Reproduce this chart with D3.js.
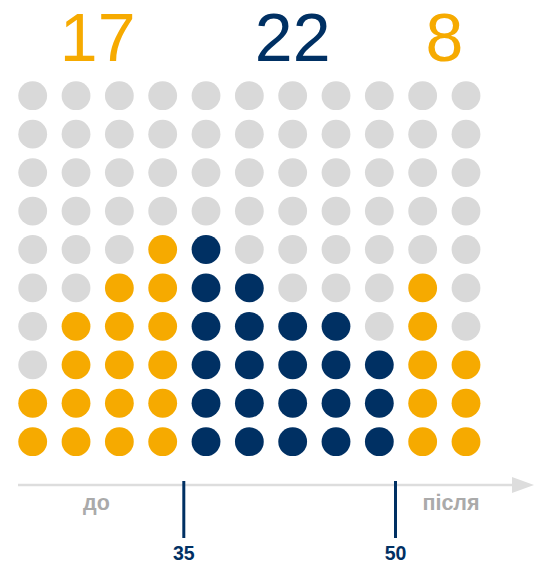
<!DOCTYPE html>
<html lang="uk">
<head>
<meta charset="UTF-8">
<title>До 35, 35–50, після 50</title>
<script src="https://cdn.jsdelivr.net/npm/d3@7"></script>
<style>
  body { margin: 0; background: #fff; }
  text { font-family: Arial, "Liberation Sans", Helvetica, sans-serif; }
</style>
</head>
<body>
<div id="container"></div>
<script>
// dots per column, counted from the bottom
const colCounts = [2, 4, 5, 6, 6, 5, 4, 4, 3, 5, 3];
// which group each column belongs to
const colGroup = [0, 0, 0, 0, 1, 1, 1, 1, 1, 2, 2];
const groupTotals = [17, 22, 8];
const groupColors = ["#f6aa00", "#003063", "#f6aa00"];
const nRows = 10;
const ageTicks = [35, 50];
const sideLabels = ["до", "після"];

const W = 544, H = 563;
const grey = "#d9d9d9";

let svg = d3.select("#container")
    .append("svg")
    .attr("width", W)
    .attr("height", H);

let x = d3.scalePoint()
    .domain(d3.range(colCounts.length))
    .range([32.7, 466]);

let y = d3.scalePoint()
    .domain(d3.range(nRows))
    .range([441.7, 95.7]);

// build cells
let cells = [];
colCounts.forEach((n, c) => {
    for (let r = 0; r < nRows; r++) {
        cells.push({ col: c, row: r, on: r < n, group: colGroup[c] });
    }
});

svg.append("g")
    .selectAll("circle")
    .data(cells)
    .join("circle")
    .attr("cx", d => x(d.col))
    .attr("cy", d => y(d.row))
    .attr("r", 14.4)
    .attr("fill", d => d.on ? groupColors[d.group] : grey);

// group totals on top
let groupCenters = groupTotals.map((t, g) => {
    let cols = d3.range(colGroup.length).filter(c => colGroup[c] === g);
    return (x(d3.min(cols)) + x(d3.max(cols))) / 2;
});

svg.append("g")
    .selectAll("text")
    .data(groupTotals)
    .join("text")
    .attr("x", (d, i) => groupCenters[i])
    .attr("y", 60.7)
    .attr("text-anchor", "middle")
    .attr("font-size", 68)
    .attr("fill", (d, i) => groupColors[i])
    .text(d => d);

// age axis with arrow
const axisY = 485;
svg.append("line")
    .attr("x1", 18).attr("x2", 514)
    .attr("y1", axisY).attr("y2", axisY)
    .attr("stroke", "#dddddd")
    .attr("stroke-width", 2.5);
svg.append("path")
    .attr("d", `M512,${axisY - 8}L534,${axisY}L512,${axisY + 8}Z`)
    .attr("fill", "#dddddd");

svg.append("text")
    .attr("x", 96.5).attr("y", 510)
    .attr("text-anchor", "middle")
    .attr("font-size", 21.5).attr("font-weight", "bold")
    .attr("fill", "#aaaaaa")
    .text(sideLabels[0]);
svg.append("text")
    .attr("x", 451).attr("y", 510)
    .attr("text-anchor", "middle")
    .attr("font-size", 21.5).attr("font-weight", "bold")
    .attr("fill", "#aaaaaa")
    .text(sideLabels[1]);

let age = d3.scaleLinear()
    .domain([35, 50])
    .range([183.3, 395]);

let ax = svg.append("g")
    .attr("transform", "translate(0,481)")
    .call(d3.axisBottom(age).tickValues(ageTicks).tickSize(57).tickPadding(8));
ax.select(".domain").remove();
ax.selectAll(".tick line")
    .attr("stroke", "#003063")
    .attr("stroke-width", 3);
ax.selectAll(".tick text")
    .attr("fill", "#003063")
    .attr("font-size", 19.5)
    .attr("font-weight", "bold")
    .attr("font-family", "Arial, 'Liberation Sans', sans-serif");
</script>
</body>
</html>
